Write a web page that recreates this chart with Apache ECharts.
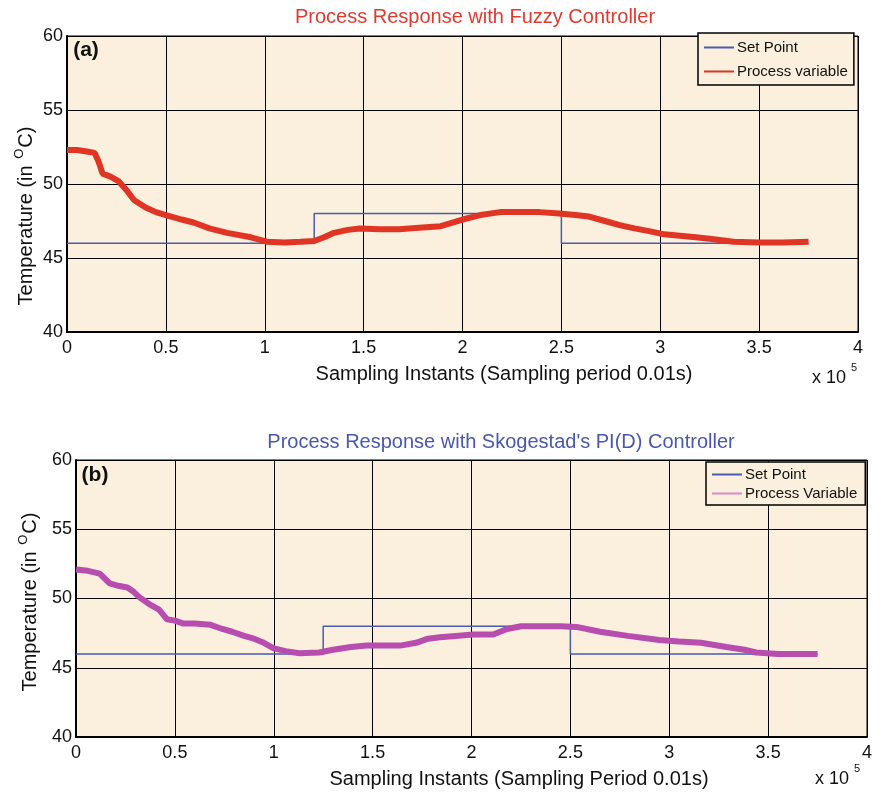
<!DOCTYPE html>
<html>
<head>
<meta charset="utf-8">
<script src="https://cdn.jsdelivr.net/npm/echarts@6/dist/echarts.min.js"></script>
<style>
html,body{margin:0;padding:0;background:#fff;}
#c{width:880px;height:793px;}
</style>
</head>
<body>
<div id="c"></div>
<script>
// ---- data (x in units of 1e5 sampling instants) ----
var xTicks = [0, 0.5, 1, 1.5, 2, 2.5, 3, 3.5, 4];
var yTicks = [40, 45, 50, 55, 60];

var spX = [0, 1.25, 1.25, 2.5, 2.5, 3.75];
var spYa = [46, 46, 48, 48, 46, 46];
var spYb = [46, 46, 48, 48, 46, 46];

var pvXa = [0, 0.05, 0.1, 0.14, 0.16, 0.18, 0.22, 0.26, 0.3, 0.34, 0.4, 0.45, 0.5, 0.58, 0.64, 0.72, 0.81, 0.93, 1.01, 1.1, 1.18, 1.25, 1.3, 1.35, 1.42, 1.48, 1.58, 1.68, 1.78, 1.89, 2.0, 2.09, 2.19, 2.3, 2.39, 2.49, 2.57, 2.64, 2.72, 2.8, 2.87, 2.95, 3.02, 3.1, 3.18, 3.25, 3.37, 3.5, 3.62, 3.75];
var pvYa = [52.3, 52.3, 52.2, 52.1, 51.5, 50.7, 50.5, 50.2, 49.6, 48.9, 48.4, 48.1, 47.9, 47.6, 47.4, 47.0, 46.7, 46.4, 46.1, 46.05, 46.1, 46.15, 46.4, 46.7, 46.9, 47.0, 46.95, 46.95, 47.05, 47.15, 47.6, 47.9, 48.1, 48.1, 48.1, 48.0, 47.9, 47.8, 47.5, 47.2, 47.0, 46.8, 46.6, 46.5, 46.4, 46.3, 46.1, 46.05, 46.05, 46.1];

var pvXb = [0, 0.06, 0.12, 0.17, 0.22, 0.26, 0.29, 0.32, 0.37, 0.42, 0.46, 0.5, 0.54, 0.6, 0.68, 0.74, 0.79, 0.85, 0.9, 0.95, 1.0, 1.06, 1.13, 1.23, 1.3, 1.39, 1.47, 1.55, 1.64, 1.72, 1.78, 1.84, 1.92, 2.01, 2.11, 2.18, 2.25, 2.35, 2.45, 2.53, 2.65, 2.79, 2.95, 3.05, 3.16, 3.29, 3.38, 3.44, 3.55, 3.65, 3.75];
var pvYb = [52.1, 52.0, 51.8, 51.1, 50.9, 50.8, 50.5, 50.1, 49.6, 49.2, 48.5, 48.4, 48.2, 48.2, 48.1, 47.8, 47.6, 47.3, 47.1, 46.8, 46.4, 46.2, 46.05, 46.1, 46.3, 46.5, 46.6, 46.6, 46.6, 46.8, 47.1, 47.2, 47.3, 47.4, 47.4, 47.8, 48.0, 48.0, 48.0, 47.95, 47.6, 47.3, 47.0, 46.9, 46.8, 46.5, 46.3, 46.1, 46.0, 46.0, 46.0];

function zip(xs, ys){ var o=[]; for(var i=0;i<xs.length;i++) o.push([xs[i], ys[i]]); return o; }

var FONT = '"Liberation Sans", Arial, Helvetica, sans-serif';
var cream = '#FBF0DD';
var blue = '#4A5BB0';
var red = '#E03424';
var mag = '#B84DB0';

function xAxis(gi){
  return {
    type:'value', gridIndex:gi, min:0, max:4, interval:0.5,
    axisLine:{show:true, lineStyle:{color:'#000', width:2}},
    axisTick:{show:false},
    axisLabel:{color:'#111', fontSize:18, fontFamily:FONT, margin:7,
      formatter:function(v){ return String(v); }},
    splitLine:{show:true, lineStyle:{color:'#000', width:1}}
  };
}
function yAxis(gi){
  return {
    type:'value', gridIndex:gi, min:40, max:60, interval:5,
    axisLine:{show:true, lineStyle:{color:'#000', width:2}},
    axisTick:{show:false},
    axisLabel:{color:'#111', fontSize:18, fontFamily:FONT, margin:4},
    splitLine:{show:true, lineStyle:{color:'#000', width:1}}
  };
}

function txt(x, y, text, size, color, opts){
  var s = {text:text, x:0, y:0, fill:color||'#111', font:(opts&&opts.bold?'bold ':'')+size+'px '+FONT,
           textAlign:(opts&&opts.align)||'center', textVerticalAlign:'middle'};
  if (opts && opts.rich) s.rich = opts.rich;
  return {type:'text', x:x, y:y, rotation:(opts&&opts.rot)||0, style:s, z:100};
}

var supRich = {s:{fontSize:13, fontFamily:FONT, padding:[0,1,13,1], fill:'#111'}};

var chart = echarts.init(document.getElementById('c'), null, {renderer:'canvas'});
chart.setOption({
  backgroundColor:'#fff',
  animation:false,
  grid:[
    {left:67, top:36, width:791, height:296, show:true, backgroundColor:cream, borderColor:'#000', borderWidth:1},
    {left:76, top:460, width:791, height:277, show:true, backgroundColor:cream, borderColor:'#000', borderWidth:1}
  ],
  xAxis:[xAxis(0), xAxis(1)],
  yAxis:[yAxis(0), yAxis(1)],
  legend:[
    {data:[{name:'Set Point', icon:'rect'},{name:'Process variable', icon:'rect'}],
     orient:'vertical', left:698, top:33, width:158, itemWidth:30, itemHeight:2, itemGap:9,
     padding:[7,6,6,6], backgroundColor:cream, borderColor:'#000', borderWidth:1.5,
     textStyle:{fontSize:15, color:'#111', fontFamily:FONT, padding:[0,0,0,-2]}},
    {data:[{name:'Set Point ', icon:'rect'},{name:'Process Variable', icon:'rect'}],
     orient:'vertical', left:706, top:462, itemWidth:30, itemHeight:2, itemGap:4,
     padding:[5,8,4,6], backgroundColor:cream, borderColor:'#000', borderWidth:1.5,
     textStyle:{fontSize:15, color:'#111', fontFamily:FONT, padding:[0,0,0,-2]}}
  ],
  series:[
    {name:'Set Point', type:'line', xAxisIndex:0, yAxisIndex:0, data:zip(spX, spYa), showSymbol:false,
     lineStyle:{color:blue, width:1.5}, itemStyle:{color:blue}, z:2},
    {name:'Process variable', type:'line', xAxisIndex:0, yAxisIndex:0, data:zip(pvXa, pvYa), showSymbol:false,
     lineStyle:{color:red, width:6}, itemStyle:{color:red}, z:3},
    {name:'Set Point ', type:'line', xAxisIndex:1, yAxisIndex:1, data:zip(spX, spYb), showSymbol:false,
     lineStyle:{color:blue, width:1.5}, itemStyle:{color:blue}, z:2},
    {name:'Process Variable', type:'line', xAxisIndex:1, yAxisIndex:1, data:zip(pvXb, pvYb), showSymbol:false,
     lineStyle:{color:mag, width:6}, itemStyle:{color:'#D98ACB'}, z:3}
  ],
  graphic:[
    txt(475, 17, 'Process Response with Fuzzy Controller', 20, '#E03A2E'),
    txt(501, 442, "Process Response with Skogestad's PI(D) Controller", 20, '#4A57B0'),
    txt(86, 50, '(a)', 21, '#111', {bold:true}),
    txt(95, 475, '(b)', 21, '#111', {bold:true}),
    txt(504, 374, 'Sampling Instants (Sampling period 0.01s)', 20, '#111'),
    txt(519, 779, 'Sampling Instants (Sampling Period 0.01s)', 20, '#111'),
    txt(812, 378, 'x 10', 18, '#111', {align:'left'}),
    txt(851, 368, '5', 11, '#111', {align:'left'}),
    txt(815, 779, 'x 10', 18, '#111', {align:'left'}),
    txt(854, 769, '5', 11, '#111', {align:'left'}),
    txt(26, 216, 'Temperature (in {s|O}C)', 20, '#111', {rot:Math.PI/2, rich:supRich}),
    txt(30, 602, 'Temperature (in {s|O}C)', 20, '#111', {rot:Math.PI/2, rich:supRich})
  ]
});
</script>
</body>
</html>
